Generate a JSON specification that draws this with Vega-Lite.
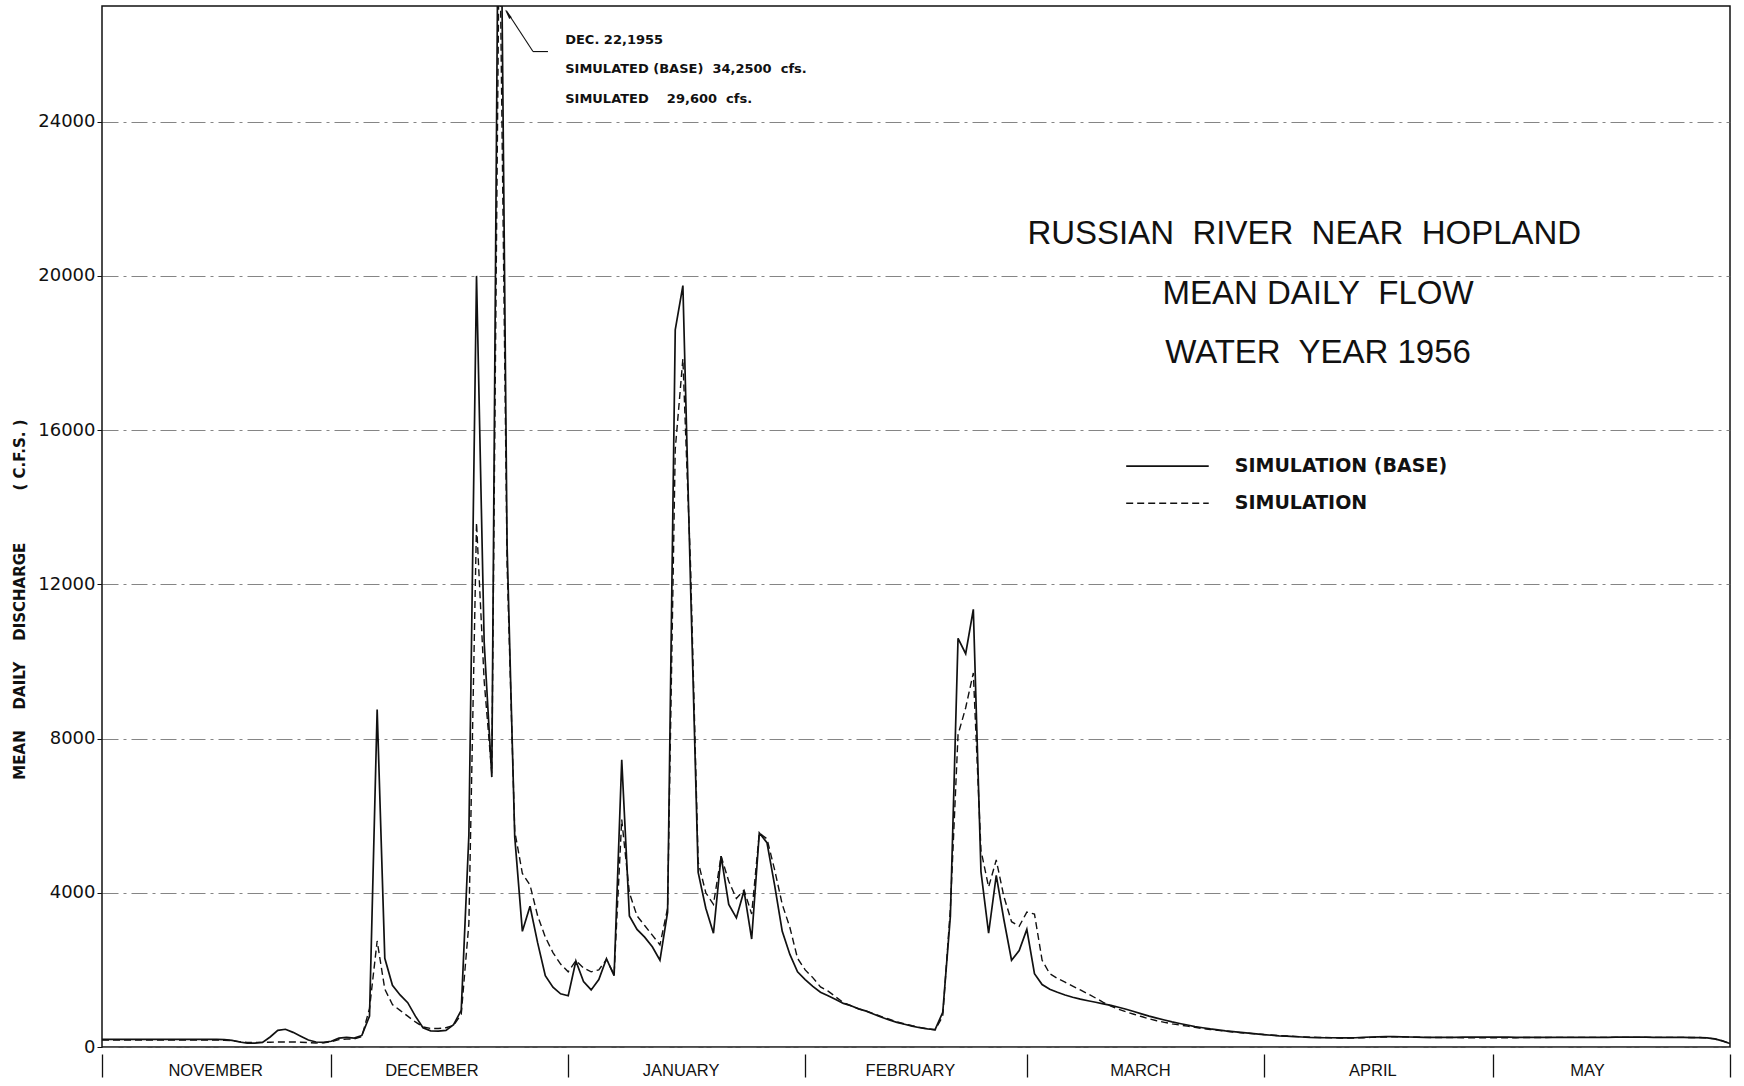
{
  "$schema": "https://vega.github.io/schema/vega-lite/v6.json",
  "width": 1628,
  "height": 1041,
  "autosize": {"type": "none"},
  "padding": {"left": 102, "top": 6, "right": 14, "bottom": 39},
  "background": "white",
  "config": {"view": {"stroke": "#111", "strokeWidth": 1.5}, "font": "DejaVu Sans"},
  "datasets": {
    "flow": [
      {"day":0,"base":200,"sim":180},{"day":1,"base":200,"sim":180},{"day":2,"base":200,"sim":180},{"day":3,"base":200,"sim":180},
      {"day":4,"base":200,"sim":180},{"day":5,"base":200,"sim":180},{"day":6,"base":200,"sim":180},{"day":7,"base":200,"sim":180},
      {"day":8,"base":200,"sim":180},{"day":9,"base":200,"sim":180},{"day":10,"base":200,"sim":180},{"day":11,"base":200,"sim":180},
      {"day":12,"base":200,"sim":180},{"day":13,"base":200,"sim":180},{"day":14,"base":200,"sim":180},{"day":15,"base":200,"sim":180},
      {"day":16,"base":190,"sim":175},{"day":17,"base":170,"sim":165},{"day":18,"base":130,"sim":140},{"day":19,"base":100,"sim":120},
      {"day":20,"base":100,"sim":120},{"day":21,"base":120,"sim":120},{"day":22,"base":260,"sim":125},{"day":23,"base":430,"sim":130},
      {"day":24,"base":460,"sim":130},{"day":25,"base":380,"sim":130},{"day":26,"base":280,"sim":125},{"day":27,"base":180,"sim":115},
      {"day":28,"base":130,"sim":105},{"day":29,"base":120,"sim":110},{"day":30,"base":150,"sim":140},{"day":31,"base":230,"sim":190},
      {"day":32,"base":250,"sim":205},{"day":33,"base":230,"sim":210},{"day":34,"base":300,"sim":270},{"day":35,"base":800,"sim":1000},
      {"day":36,"base":8750,"sim":2750},{"day":37,"base":2300,"sim":1500},{"day":38,"base":1600,"sim":1100},{"day":39,"base":1350,"sim":950},
      {"day":40,"base":1150,"sim":800},{"day":41,"base":800,"sim":650},{"day":42,"base":500,"sim":520},{"day":43,"base":420,"sim":480},
      {"day":44,"base":410,"sim":480},{"day":45,"base":430,"sim":500},{"day":46,"base":580,"sim":560},{"day":47,"base":950,"sim":850},
      {"day":48,"base":5500,"sim":3200},{"day":49,"base":20000,"sim":13600},{"day":50,"base":10500,"sim":9500},{"day":51,"base":7000,"sim":7100},
      {"day":52,"base":34250,"sim":29600},{"day":53,"base":13000,"sim":12500},{"day":54,"base":5450,"sim":5600},{"day":55,"base":3000,"sim":4500},
      {"day":56,"base":3650,"sim":4200},{"day":57,"base":2700,"sim":3400},{"day":58,"base":1850,"sim":2850},{"day":59,"base":1550,"sim":2450},
      {"day":60,"base":1380,"sim":2150},{"day":61,"base":1330,"sim":1950},{"day":62,"base":2230,"sim":2240},{"day":63,"base":1700,"sim":2050},
      {"day":64,"base":1480,"sim":1950},{"day":65,"base":1750,"sim":2000},{"day":66,"base":2290,"sim":2270},{"day":67,"base":1850,"sim":1880},
      {"day":68,"base":7450,"sim":5900},{"day":69,"base":3400,"sim":4000},{"day":70,"base":3050,"sim":3400},{"day":71,"base":2850,"sim":3150},
      {"day":72,"base":2600,"sim":2900},{"day":73,"base":2250,"sim":2650},{"day":74,"base":3500,"sim":3600},{"day":75,"base":18600,"sim":15500},
      {"day":76,"base":19750,"sim":17850},{"day":77,"base":12000,"sim":12500},{"day":78,"base":4530,"sim":4800},{"day":79,"base":3600,"sim":4000},
      {"day":80,"base":2950,"sim":3700},{"day":81,"base":4950,"sim":4950},{"day":82,"base":3700,"sim":4300},{"day":83,"base":3350,"sim":3850},
      {"day":84,"base":4050,"sim":4070},{"day":85,"base":2800,"sim":3450},{"day":86,"base":5550,"sim":5550},{"day":87,"base":5300,"sim":5400},
      {"day":88,"base":4200,"sim":4600},{"day":89,"base":3000,"sim":3700},{"day":90,"base":2400,"sim":3100},{"day":91,"base":1950,"sim":2300},
      {"day":92,"base":1750,"sim":2000},{"day":93,"base":1570,"sim":1800},{"day":94,"base":1420,"sim":1560},{"day":95,"base":1330,"sim":1450},
      {"day":96,"base":1230,"sim":1300},{"day":97,"base":1130,"sim":1150},{"day":98,"base":1070,"sim":1070},{"day":99,"base":990,"sim":990},
      {"day":100,"base":930,"sim":930},{"day":101,"base":850,"sim":860},{"day":102,"base":770,"sim":790},{"day":103,"base":700,"sim":720},
      {"day":104,"base":640,"sim":650},{"day":105,"base":590,"sim":600},{"day":106,"base":540,"sim":550},{"day":107,"base":500,"sim":510},
      {"day":108,"base":470,"sim":470},{"day":109,"base":450,"sim":440},{"day":110,"base":900,"sim":800},{"day":111,"base":3400,"sim":3600},
      {"day":112,"base":10600,"sim":8100},{"day":113,"base":10200,"sim":8800},{"day":114,"base":11350,"sim":9700},{"day":115,"base":4550,"sim":5100},
      {"day":116,"base":2950,"sim":4150},{"day":117,"base":4450,"sim":4850},{"day":118,"base":3300,"sim":3900},{"day":119,"base":2250,"sim":3250},
      {"day":120,"base":2500,"sim":3130},{"day":121,"base":3050,"sim":3500},{"day":122,"base":1900,"sim":3450},{"day":123,"base":1620,"sim":2250},
      {"day":124,"base":1500,"sim":1900},{"day":125,"base":1420,"sim":1780},{"day":126,"base":1350,"sim":1680},{"day":127,"base":1290,"sim":1580},
      {"day":128,"base":1240,"sim":1480},{"day":129,"base":1200,"sim":1380},{"day":130,"base":1160,"sim":1270},{"day":131,"base":1120,"sim":1160},
      {"day":132,"base":1080,"sim":1060},{"day":133,"base":1030,"sim":980},{"day":134,"base":980,"sim":910},{"day":135,"base":920,"sim":850},
      {"day":136,"base":860,"sim":790},{"day":137,"base":800,"sim":730},{"day":138,"base":750,"sim":680},{"day":139,"base":700,"sim":640},
      {"day":140,"base":650,"sim":600},{"day":141,"base":610,"sim":570},{"day":142,"base":570,"sim":540},{"day":143,"base":530,"sim":510},
      {"day":144,"base":500,"sim":480},{"day":145,"base":470,"sim":455},{"day":146,"base":445,"sim":430},{"day":147,"base":420,"sim":410},
      {"day":148,"base":400,"sim":390},{"day":149,"base":380,"sim":370},{"day":150,"base":360,"sim":355},{"day":151,"base":340,"sim":340},
      {"day":152,"base":320,"sim":325},{"day":153,"base":305,"sim":310},{"day":154,"base":290,"sim":295},{"day":155,"base":280,"sim":285},
      {"day":156,"base":270,"sim":275},{"day":157,"base":260,"sim":265},{"day":158,"base":250,"sim":255},{"day":159,"base":245,"sim":250},
      {"day":160,"base":240,"sim":245},{"day":161,"base":240,"sim":240},{"day":162,"base":235,"sim":235},{"day":163,"base":235,"sim":235},
      {"day":164,"base":240,"sim":235},{"day":165,"base":250,"sim":240},{"day":166,"base":260,"sim":250},{"day":167,"base":265,"sim":255},
      {"day":168,"base":270,"sim":260},{"day":169,"base":270,"sim":265},{"day":170,"base":265,"sim":265},{"day":171,"base":260,"sim":260},
      {"day":172,"base":255,"sim":255},{"day":173,"base":250,"sim":250},{"day":174,"base":250,"sim":245},{"day":175,"base":250,"sim":245},
      {"day":176,"base":250,"sim":245},{"day":177,"base":250,"sim":245},{"day":178,"base":255,"sim":240},{"day":179,"base":255,"sim":240},
      {"day":180,"base":255,"sim":240},{"day":181,"base":255,"sim":240},{"day":182,"base":255,"sim":240},{"day":183,"base":255,"sim":240},
      {"day":184,"base":255,"sim":240},{"day":185,"base":250,"sim":240},{"day":186,"base":250,"sim":245},{"day":187,"base":250,"sim":245},
      {"day":188,"base":250,"sim":245},{"day":189,"base":250,"sim":245},{"day":190,"base":250,"sim":250},{"day":191,"base":250,"sim":250},
      {"day":192,"base":250,"sim":250},{"day":193,"base":250,"sim":250},{"day":194,"base":250,"sim":250},{"day":195,"base":250,"sim":250},
      {"day":196,"base":250,"sim":250},{"day":197,"base":250,"sim":250},{"day":198,"base":255,"sim":250},{"day":199,"base":255,"sim":250},
      {"day":200,"base":255,"sim":250},{"day":201,"base":255,"sim":250},{"day":202,"base":255,"sim":250},{"day":203,"base":250,"sim":250},
      {"day":204,"base":250,"sim":250},{"day":205,"base":250,"sim":250},{"day":206,"base":250,"sim":250},{"day":207,"base":250,"sim":250},
      {"day":208,"base":245,"sim":245},{"day":209,"base":245,"sim":245},{"day":210,"base":235,"sim":235},{"day":211,"base":210,"sim":210},
      {"day":212,"base":160,"sim":160},{"day":213,"base":90,"sim":90}
    ]
  },
  "layer": [
    {
      "data": {"name": "flow"},
      "mark": {"type": "line", "clip": true, "color": "#111", "strokeWidth": 1.7},
      "encoding": {
        "x": {
          "field": "day", "type": "quantitative",
          "scale": {"domain": [0, 213], "nice": false, "zero": false},
          "axis": {
            "orient": "bottom",
            "values": [0, 14.8, 30, 43.1, 61, 75.7, 92, 105.7, 121, 135.8, 152, 166.2, 182, 194.3, 213],
            "labelExpr": "indexof([0,30,61,92,121,152,182,213], datum.value) >= 0 ? '' : datum.value < 20 ? 'NOVEMBER' : datum.value < 50 ? 'DECEMBER' : datum.value < 90 ? 'JANUARY' : datum.value < 120 ? 'FEBRUARY' : datum.value < 150 ? 'MARCH' : datum.value < 180 ? 'APRIL' : 'MAY'",
            "tickOpacity": {"condition": {"test": "indexof([0,30,61,92,121,152,182,213], datum.value) >= 0", "value": 1}, "value": 0},
            "domain": false, "grid": false, "ticks": true,
            "tickSize": 23, "tickColor": "#111", "tickWidth": 1.3, "offset": 7,
            "labelPadding": -15, "labelBaseline": "top", "labelFont": "Liberation Sans", "labelFontSize": 16.5, "labelColor": "#111",
            "labelOverlap": false, "labelFlush": false, "labelBound": false, "title": null
          }
        },
        "y": {
          "field": "base", "type": "quantitative",
          "scale": {"domain": [0, 27000], "nice": false, "zero": true},
          "axis": {
            "orient": "left",
            "values": [0, 4000, 8000, 12000, 16000, 20000, 24000],
            "format": "d", "domain": false, "ticks": true, "tickSize": 5, "tickColor": "#111",
            "labelPadding": 2, "labelFont": "DejaVu Sans", "labelFontSize": 18, "labelColor": "#111", "labelOverlap": false,
            "grid": true, "gridColor": "#666", "gridDash": [16, 5, 3, 5], "gridWidth": 0.8,
            "title": "MEAN\u00a0\u00a0\u00a0 DAILY\u00a0\u00a0\u00a0 DISCHARGE\u00a0\u00a0\u00a0\u00a0\u00a0\u00a0\u00a0\u00a0\u00a0 ( C.F.S. )",
            "titleFont": "DejaVu Sans", "titleFontWeight": "bold", "titleFontSize": 15, "titleColor": "#111",
            "titleX": -83, "titleY": 593, "titleAngle": -90, "titleAlign": "center", "titleBaseline": "middle"
          }
        }
      }
    },
    {
      "data": {"name": "flow"},
      "mark": {"type": "line", "clip": true, "color": "#111", "strokeWidth": 1.4, "strokeDash": [7, 4]},
      "encoding": {
        "x": {"field": "day", "type": "quantitative"},
        "y": {"field": "sim", "type": "quantitative"}
      }
    },
    {
      "data": {"values": [{}]},
      "mark": {"type": "text", "font": "Liberation Sans", "fontSize": 33, "align": "center", "baseline": "middle", "color": "#111", "text": "RUSSIAN\u00a0 RIVER\u00a0 NEAR\u00a0 HOPLAND"},
      "encoding": {"x": {"datum": 157.3, "type": "quantitative"}, "y": {"datum": 21090, "type": "quantitative"}}
    },
    {
      "data": {"values": [{}]},
      "mark": {"type": "text", "font": "Liberation Sans", "fontSize": 33, "align": "center", "baseline": "middle", "color": "#111", "text": "MEAN DAILY\u00a0 FLOW"},
      "encoding": {"x": {"datum": 159.1, "type": "quantitative"}, "y": {"datum": 19530, "type": "quantitative"}}
    },
    {
      "data": {"values": [{}]},
      "mark": {"type": "text", "font": "Liberation Sans", "fontSize": 33, "align": "center", "baseline": "middle", "color": "#111", "text": "WATER\u00a0 YEAR 1956"},
      "encoding": {"x": {"datum": 159.1, "type": "quantitative"}, "y": {"datum": 18000, "type": "quantitative"}}
    },
    {
      "data": {"values": [{}]},
      "mark": {"type": "rule", "color": "#111", "strokeWidth": 1.7},
      "encoding": {"x": {"datum": 134.0, "type": "quantitative"}, "x2": {"datum": 144.8}, "y": {"datum": 15065, "type": "quantitative"}}
    },
    {
      "data": {"values": [{}]},
      "mark": {"type": "rule", "color": "#111", "strokeWidth": 1.4, "strokeDash": [7, 4]},
      "encoding": {"x": {"datum": 134.0, "type": "quantitative"}, "x2": {"datum": 144.8}, "y": {"datum": 14104, "type": "quantitative"}}
    },
    {
      "data": {"values": [{}]},
      "mark": {"type": "text", "font": "DejaVu Sans", "fontWeight": "bold", "fontSize": 19, "align": "left", "baseline": "middle", "color": "#111", "text": "SIMULATION (BASE)"},
      "encoding": {"x": {"datum": 148.2, "type": "quantitative"}, "y": {"datum": 15065, "type": "quantitative"}}
    },
    {
      "data": {"values": [{}]},
      "mark": {"type": "text", "font": "DejaVu Sans", "fontWeight": "bold", "fontSize": 19, "align": "left", "baseline": "middle", "color": "#111", "text": "SIMULATION"},
      "encoding": {"x": {"datum": 148.2, "type": "quantitative"}, "y": {"datum": 14104, "type": "quantitative"}}
    },
    {
      "data": {"values": [{}]},
      "mark": {"type": "text", "font": "DejaVu Sans", "fontWeight": "bold", "fontSize": 13, "align": "left", "baseline": "middle", "color": "#111", "text": "DEC. 22,1955"},
      "encoding": {"x": {"datum": 60.6, "type": "quantitative"}, "y": {"datum": 26130, "type": "quantitative"}}
    },
    {
      "data": {"values": [{}]},
      "mark": {"type": "text", "font": "DejaVu Sans", "fontWeight": "bold", "fontSize": 13, "align": "left", "baseline": "middle", "color": "#111", "text": "SIMULATED (BASE)\u00a0 34,2500\u00a0 cfs."},
      "encoding": {"x": {"datum": 60.6, "type": "quantitative"}, "y": {"datum": 25377, "type": "quantitative"}}
    },
    {
      "data": {"values": [{}]},
      "mark": {"type": "text", "font": "DejaVu Sans", "fontWeight": "bold", "fontSize": 13, "align": "left", "baseline": "middle", "color": "#111", "text": "SIMULATED\u00a0\u00a0\u00a0 29,600\u00a0 cfs."},
      "encoding": {"x": {"datum": 60.6, "type": "quantitative"}, "y": {"datum": 24597, "type": "quantitative"}}
    },
    {
      "data": {"values": [{}]},
      "mark": {"type": "rule", "color": "#111", "strokeWidth": 1.1},
      "encoding": {"x": {"datum": 52.9, "type": "quantitative"}, "x2": {"datum": 56.39}, "y": {"datum": 26880, "type": "quantitative"}, "y2": {"datum": 25818}}
    },
    {
      "data": {"values": [{}]},
      "mark": {"type": "rule", "color": "#111", "strokeWidth": 1.1},
      "encoding": {"x": {"datum": 56.39, "type": "quantitative"}, "x2": {"datum": 58.35}, "y": {"datum": 25818, "type": "quantitative"}}
    },
    {
      "data": {"values": [{}]},
      "mark": {"type": "point", "shape": "wedge", "filled": true, "color": "#111", "size": 140, "angle": 327, "opacity": 1},
      "encoding": {"x": {"datum": 53.2, "type": "quantitative"}, "y": {"datum": 26760, "type": "quantitative"}}
    }
  ]
}
